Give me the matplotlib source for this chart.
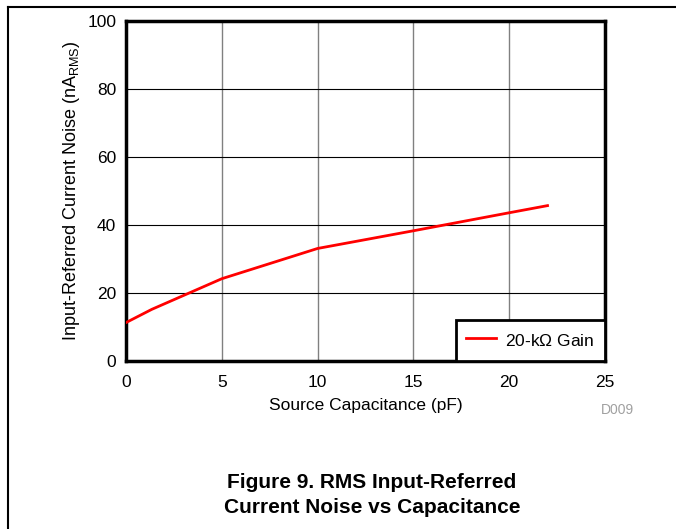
import matplotlib.pyplot as plt
from matplotlib.lines import Line2D

plt.rcParams['font.family'] = ['Liberation Sans', 'DejaVu Sans']
plt.rcParams['mathtext.fontset'] = 'custom'
plt.rcParams['mathtext.rm'] = 'Liberation Sans'

# data
cap_pf = [0, 1.35, 5.0, 10.0, 15.0, 20.0, 22.0]
noise_na = [11.3, 15.2, 24.2, 33.1, 38.3, 43.6, 45.7]
x_ticks = [0, 5, 10, 15, 20, 25]
y_ticks = [0, 20, 40, 60, 80, 100]

fig = plt.figure(figsize=(6.76, 5.29), dpi=100)
ax = fig.add_axes([126 / 676, 1 - 361 / 529, 479 / 676, 340 / 529])

ax.plot(cap_pf, noise_na, color='#ff0000', lw=2, label='20-k$\\Omega$ Gain', zorder=3)

ax.set_xlim(0, 25)
ax.set_ylim(0, 100)
ax.set_xticks(x_ticks)
ax.set_yticks(y_ticks)
ax.tick_params(length=0, labelsize=12.5)
ax.tick_params(axis='x', pad=10)
ax.tick_params(axis='y', pad=7)
ax.grid(axis='x', color='#808080', lw=1)
ax.grid(axis='y', color='black', lw=0.8)
for s in ax.spines.values():
    s.set_linewidth(2.5)

ax.set_xlabel('Source Capacitance (pF)', fontsize=12.5, labelpad=6)
ax.set_ylabel('Input-Referred Current Noise (nA$_{\\mathrm{RMS}}$)', fontsize=13, labelpad=4)

leg = ax.legend(loc='lower right', fontsize=12.5, fancybox=False, framealpha=1,
                edgecolor='black', borderaxespad=0, handlelength=1.7, handleheight=1.4,
                handletextpad=0.55, borderpad=0.6, bbox_to_anchor=(1.0, 0.0))
leg.get_frame().set_linewidth(2)

fig.text(617 / 676, 1 - 410 / 529, 'D009', color='#a0a0a0', fontsize=10, ha='center', va='center')
fig.text(372 / 676, 1 - 495 / 529, 'Figure 9. RMS Input-Referred\nCurrent Noise vs Capacitance',
         fontsize=15, fontweight='bold', ha='center', va='center', linespacing=1.45)

# page frame lines
fig.add_artist(Line2D([8 / 676, 8 / 676], [0, 1 - 7 / 529], color='black', lw=1.5, transform=fig.transFigure))
fig.add_artist(Line2D([8 / 676, 1], [1 - 7 / 529, 1 - 7 / 529], color='black', lw=1.5, transform=fig.transFigure))

fig.savefig('out.png', dpi=100)
